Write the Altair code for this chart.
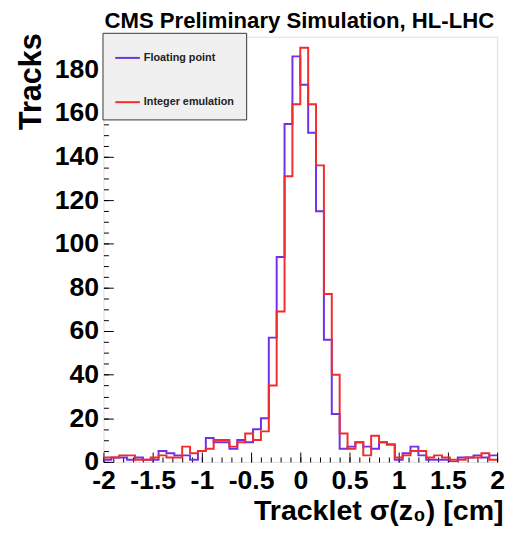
import altair as alt
import pandas as pd

# ---- data (50 bins of width 0.08 from -2 to 2) ----
bin_low = -2.0
bin_width = 0.08
series_names = ["Floating point", "Integer emulation"]
series_colors = ["#7030e8", "#f02c2c"]

floating_point = [1, 2, 2, 1, 2, 1, 1, 5, 4, 3,
                  3, 1, 5, 11, 9, 9, 6, 10, 9, 15,
                  20, 57, 94, 155, 186, 173, 151, 115, 56, 22,
                  6, 7, 9, 7, 6, 9, 8, 1, 4, 7,
                  3, 1, 1, 1, 0, 2, 2, 3, 2, 3]
integer_emulation = [2, 2, 3, 3, 1, 1, 2, 3, 2, 2,
                     7, 4, 5, 6, 10, 10, 7, 9, 13, 10,
                     14, 35, 69, 131, 164, 190, 164, 136, 77, 40,
                     13, 6, 9, 3, 12, 9, 8, 2, 3, 5,
                     5, 2, 3, 2, 1, 1, 2, 2, 4, 1]

x_major = [-2, -1.5, -1, -0.5, 0, 0.5, 1, 1.5, 2]
x_minor = [round(-2 + 0.1 * i, 1) for i in range(41)]
y_major = [0, 20, 40, 60, 80, 100, 120, 140, 160, 180]
y_minor = list(range(0, 196, 5))

rows = []
for name, vals in zip(series_names, [floating_point, integer_emulation]):
    for k, v in enumerate(vals + [vals[-1]]):
        rows.append({"series": name, "x": round(bin_low + bin_width * k, 4), "v": v})
df = pd.DataFrame(rows)

FONT = "Liberation Sans"
W, H = 400, 432
xs = alt.Scale(domain=[-2, 2], nice=False, zero=False)
ys = alt.Scale(domain=[0, 195], nice=False, zero=True)

legend = alt.Legend(
    orient="none", legendX=-1, legendY=-4, title=None,
    fillColor="#f0f0f0", strokeColor="#333333", padding=12,
    symbolType="stroke", symbolSize=625, symbolStrokeWidth=2,
    labelFont=FONT, labelFontSize=11, labelFontWeight="bold",
    labelColor="#222222", labelOffset=3, rowPadding=26,
)
color = alt.Color("series:N", scale=alt.Scale(domain=series_names, range=series_colors), legend=legend)

label_x_axis = alt.Axis(
    values=x_major, ticks=False, domain=False, grid=False,
    labelFont=FONT, labelFontSize=27, labelFontWeight="bold", labelColor="black",
    labelPadding=6, labelExpr="replace(format(datum.value, '.1~f'), '\u2212', '-')",
    labelOverlap=False, labelFlush=False,
    title="Tracklet  \u03c3(z\u2080) [cm]", titleFont=FONT, titleFontSize=29,
    titleFontWeight="bold", titleColor="black", titleAlign="right",
    titleBaseline="alphabetic", titleX=W + 6, titleY=59, titleAnchor="end",
)
label_y_axis = alt.Axis(
    values=y_major, ticks=False, domain=False, grid=False,
    labelFont=FONT, labelFontSize=27, labelFontWeight="bold", labelColor="black",
    labelPadding=5, labelOverlap=False,
    title="Tracks", titleFont=FONT, titleFontSize=31, titleFontWeight="bold",
    titleColor="black", titleAngle=270, titleAlign="right", titleBaseline="alphabetic",
    titleX=-64, titleY=-4, titleAnchor="end",
)


def hist_layer(name, xaxis, yaxis):
    return alt.Chart(df).transform_filter(alt.datum.series == name).mark_line(
        interpolate="step-after", strokeWidth=2, clip=True
    ).encode(
        x=alt.X("x:Q", scale=xs, axis=xaxis),
        y=alt.Y("v:Q", scale=ys, axis=yaxis),
        color=color,
    )


def tick_layer(xvals, yvals, size):
    return alt.Chart(df).mark_line(opacity=0).encode(
        x=alt.X("x:Q", scale=xs, axis=alt.Axis(
            orient="top", offset=-H, values=xvals, tickSize=size, tickColor="black",
            tickWidth=1, labels=False, domain=False, grid=False, title=None)),
        y=alt.Y("v:Q", scale=ys, axis=alt.Axis(
            orient="right", offset=-W, values=yvals, tickSize=size, tickColor="black",
            tickWidth=1, labels=False, domain=False, grid=False, title=None)),
    )


blue = hist_layer(series_names[0], label_x_axis, label_y_axis)
red = hist_layer(series_names[1], None, None)
major = tick_layer(x_major, y_major, 10)
minor = tick_layer(x_minor, y_minor, 5)

chart = alt.layer(blue, red, major, minor).resolve_axis(
    x="independent", y="independent"
).properties(
    width=W, height=H,
    title=alt.TitleParams(
        text="CMS Preliminary Simulation, HL-LHC", anchor="end", frame="group",
        font=FONT, fontSize=22.5, fontWeight="bold", color="black",
        baseline="alphabetic", offset=6, dx=-3, dy=24,
    ),
    padding={"left": 97, "top": 25, "right": 8, "bottom": 66},
    autosize=alt.AutoSizeParams(type="none"),
).configure_view(stroke="black", strokeWidth=1.5).configure(background="white")

chart.save("out.html", embed_options={"renderer": "svg", "actions": False})
